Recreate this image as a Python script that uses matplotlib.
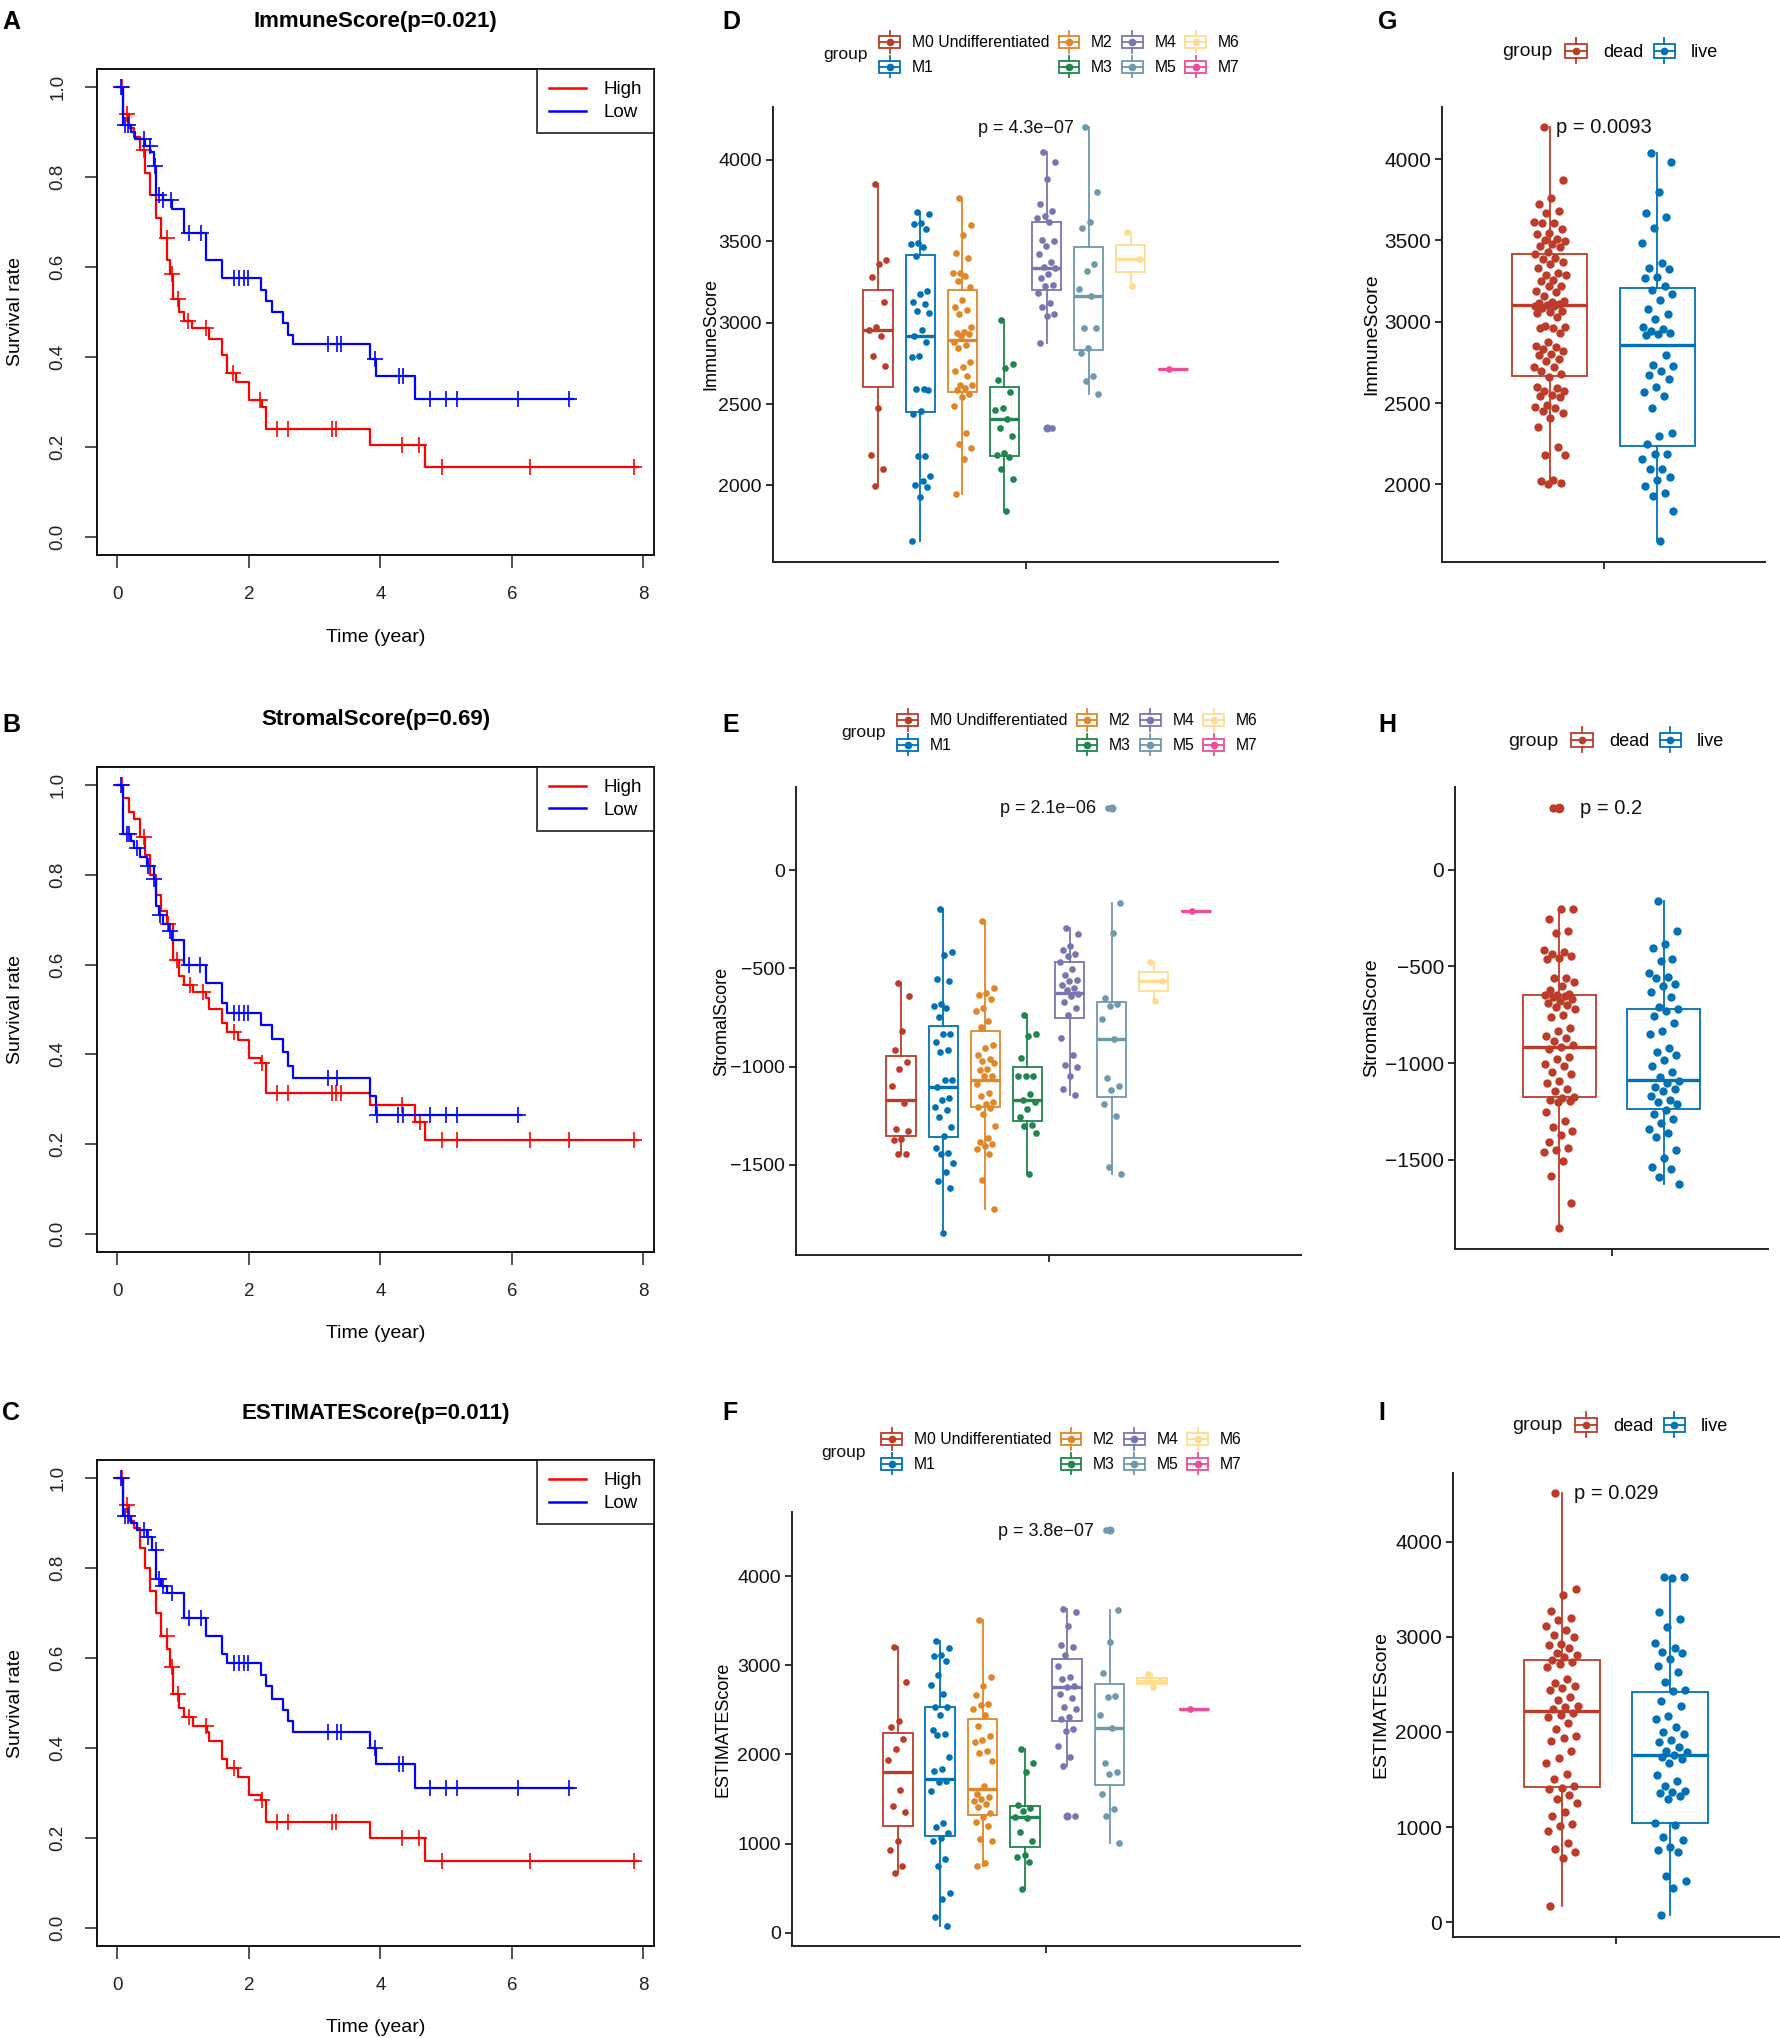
import numpy as np
import matplotlib
matplotlib.use("Agg")
import matplotlib.pyplot as plt
from matplotlib.legend_handler import HandlerBase
from matplotlib.patches import Rectangle
from matplotlib.lines import Line2D

plt.rcParams['font.family'] = ['Liberation Sans', 'DejaVu Sans']

# ======================= DATA =======================
# ---- Kaplan-Meier curves (event times, survival after step, censor times, last follow-up)
A_high_t = [0.08, 0.18, 0.25, 0.34, 0.42, 0.50, 0.59, 0.67, 0.76, 0.80, 0.85, 0.93, 1.01, 1.13, 1.40, 1.59, 1.66, 1.81, 2.00, 2.20, 2.26, 3.84, 4.68]
A_high_s = [0.94, 0.91, 0.89, 0.86, 0.81, 0.76, 0.71, 0.665, 0.615, 0.585, 0.53, 0.50, 0.48, 0.465, 0.44, 0.405, 0.365, 0.345, 0.305, 0.29, 0.24, 0.205, 0.155]
A_high_c = [0.07, 0.15, 0.40, 0.75, 0.83, 0.92, 1.08, 1.35, 1.76, 2.17, 2.43, 2.59, 3.27, 3.33, 4.33, 4.59, 4.93, 6.27, 7.85]
A_high_end = 7.91
A_low_t = [0.08, 0.20, 0.27, 0.42, 0.50, 0.56, 0.59, 0.69, 0.83, 1.01, 1.35, 1.59, 2.18, 2.26, 2.35, 2.52, 2.59, 2.67, 3.84, 3.93, 4.52]
A_low_s = [0.915, 0.90, 0.885, 0.87, 0.855, 0.825, 0.76, 0.75, 0.73, 0.675, 0.615, 0.575, 0.55, 0.525, 0.50, 0.475, 0.45, 0.428, 0.395, 0.357, 0.306]
A_low_c = [0.05, 0.12, 0.16, 0.40, 0.49, 0.57, 0.64, 0.70, 0.82, 1.09, 1.27, 1.78, 1.85, 1.92, 1.98, 3.20, 3.34, 3.40, 3.92, 4.28, 4.35, 4.75, 5.00, 5.17, 6.09, 6.87]
A_low_end = 6.93

B_high_t = [0.08, 0.17, 0.25, 0.34, 0.42, 0.50, 0.59, 0.67, 0.76, 0.84, 0.93, 1.01, 1.15, 1.35, 1.40, 1.59, 1.66, 1.84, 2.00, 2.18, 2.26, 3.84, 4.52, 4.68]
B_high_s = [0.97, 0.94, 0.925, 0.885, 0.845, 0.80, 0.755, 0.72, 0.69, 0.61, 0.575, 0.555, 0.54, 0.525, 0.50, 0.47, 0.45, 0.433, 0.393, 0.38, 0.315, 0.287, 0.25, 0.21]
B_high_c = [0.07, 0.40, 0.77, 0.90, 1.10, 1.30, 1.78, 2.20, 2.43, 2.59, 3.27, 3.33, 3.40, 4.33, 4.60, 4.93, 5.17, 6.27, 6.87, 7.85]
B_high_end = 7.91
B_low_t = [0.08, 0.20, 0.25, 0.35, 0.45, 0.55, 0.59, 0.64, 0.69, 0.78, 0.83, 1.01, 1.35, 1.59, 1.66, 2.18, 2.35, 2.52, 2.59, 2.67, 3.84, 3.93]
B_low_s = [0.89, 0.875, 0.86, 0.84, 0.82, 0.79, 0.73, 0.71, 0.69, 0.675, 0.655, 0.60, 0.558, 0.515, 0.493, 0.465, 0.435, 0.405, 0.375, 0.347, 0.307, 0.265]
B_low_c = [0.05, 0.14, 0.18, 0.30, 0.46, 0.56, 0.65, 0.80, 1.09, 1.25, 1.78, 1.85, 1.92, 1.98, 3.20, 3.34, 3.95, 4.27, 4.35, 4.75, 5.00, 5.17, 6.09]
B_low_end = 6.13

C_high_t = [0.08, 0.18, 0.25, 0.34, 0.42, 0.50, 0.59, 0.67, 0.76, 0.80, 0.85, 0.93, 1.01, 1.15, 1.37, 1.40, 1.59, 1.66, 1.84, 2.00, 2.18, 2.26, 3.84, 4.68]
C_high_s = [0.94, 0.905, 0.89, 0.845, 0.80, 0.75, 0.70, 0.65, 0.62, 0.58, 0.52, 0.49, 0.47, 0.45, 0.435, 0.415, 0.375, 0.355, 0.335, 0.295, 0.285, 0.235, 0.20, 0.15]
C_high_c = [0.07, 0.15, 0.75, 0.83, 0.92, 1.09, 1.35, 1.78, 2.20, 2.43, 2.59, 3.27, 3.33, 4.33, 4.59, 4.93, 6.27, 7.85]
C_high_end = 7.91
C_low_t = [0.08, 0.20, 0.30, 0.45, 0.53, 0.59, 0.66, 0.76, 1.01, 1.35, 1.59, 1.66, 2.18, 2.26, 2.35, 2.52, 2.59, 2.67, 3.84, 3.93, 4.52]
C_low_s = [0.915, 0.90, 0.885, 0.87, 0.84, 0.775, 0.76, 0.745, 0.69, 0.65, 0.61, 0.59, 0.562, 0.537, 0.51, 0.485, 0.46, 0.435, 0.40, 0.365, 0.312]
C_low_c = [0.05, 0.12, 0.16, 0.40, 0.47, 0.58, 0.64, 0.70, 0.83, 1.09, 1.27, 1.78, 1.85, 1.92, 1.98, 3.20, 3.34, 3.40, 3.92, 4.28, 4.35, 4.75, 5.00, 5.17, 6.09, 6.87]
C_low_end = 6.93

km_titles = ["ImmuneScore(p=0.021)", "StromalScore(p=0.69)", "ESTIMATEScore(p=0.011)"]

# ---- groups
m_groups = ["M0 Undifferentiated", "M1", "M2", "M3", "M4", "M5", "M6", "M7"]
m_colors = ["#BC3C29", "#0072B5", "#E18727", "#20854E", "#7876B1", "#6F99AD", "#FFDC91", "#EE4C97"]
s_groups = ["dead", "live"]
s_colors = ["#BC3C29", "#0072B5"]

# ---- D: ImmuneScore by M subtype
D_M0 = [3854, 3388, 3358, 3278, 3125, 2972, 2953, 2918, 2793, 2736, 2478, 2190, 2104, 1998]
D_M1 = [3677, 3670, 3612, 3605, 3576, 3490, 3482, 3464, 3410, 3195, 3176, 3130, 3113, 3070, 3059, 2955, 2918,
        2882, 2795, 2790, 2593, 2590, 2588, 2456, 2442, 2183, 2180, 2059, 2028, 2000, 1988, 1929, 1659]
D_M2 = [3765, 3600, 3536, 3428, 3400, 3308, 3304, 3285, 3254, 3219, 3139, 3099, 3078, 3052, 2972, 2941, 2936,
        2929, 2918, 2880, 2864, 2842, 2760, 2729, 2701, 2675, 2620, 2616, 2600, 2588, 2565, 2541, 2489, 2322,
        2254, 2230, 2165, 1946]
D_M3 = [3019, 2746, 2722, 2647, 2576, 2475, 2466, 2407, 2353, 2306, 2200, 2188, 2172, 2099, 2038, 1842]
D_M4 = [4047, 3988, 3882, 3729, 3687, 3654, 3645, 3619, 3511, 3501, 3471, 3424, 3374, 3341, 3336, 3299, 3275,
        3233, 3228, 3181, 3118, 3099, 3054, 3040, 2878, 2353]
D_M5 = [4200, 3805, 3616, 3584, 3358, 3318, 3207, 3165, 2969, 2965, 2847, 2816, 2675, 2640, 2565]
D_M6 = [3560, 3393, 3228]
D_M7 = [2718]
D_q1 = [2607, 2449, 2576, 2181, 3200, 2831, 3311, 2718]
D_med = [2953, 2918, 2894, 2407, 3336, 3165, 3393, 2718]
D_q3 = [3200, 3416, 3200, 2607, 3619, 3468, 3480, 2718]
D_lo = [1998, 1659, 1946, 1842, 2878, 2565, 3228, 2718]
D_hi = [3854, 3677, 3765, 3019, 4047, 4200, 3560, 2718]
D_out = [[], [], [], [], [2353], [], [], []]
D_p = "p = 4.3e\u221207"

# ---- E: StromalScore by M subtype
E_M0 = [-576, -641, -816, -914, -976, -1012, -1100, -1184, -1318, -1328, -1367, -1373, -1447, -1447]
E_M1 = [-197, -416, -432, -553, -562, -680, -689, -699, -748, -836, -836, -875, -914, -926, -1066, -1070,
        -1103, -1158, -1168, -1203, -1223, -1256, -1305, -1353, -1412, -1441, -1445, -1490, -1535, -1584,
        -1617, -1848]
E_M2 = [-256, -602, -627, -637, -656, -699, -715, -768, -797, -891, -904, -943, -963, -969, -982, -1010,
        -1016, -1047, -1050, -1086, -1133, -1150, -1178, -1190, -1203, -1210, -1240, -1301, -1363, -1385,
        -1393, -1402, -1420, -1447, -1578, -1724]
E_M3 = [-738, -836, -846, -957, -1047, -1047, -1050, -1139, -1172, -1180, -1217, -1256, -1295, -1300, -1338, -1545]
E_M4 = [-293, -324, -387, -406, -426, -436, -465, -504, -533, -560, -562, -582, -602, -611, -631, -640,
        -670, -699, -738, -855, -943, -992, -1002, -1047, -1115, -1144]
E_M5 = [316, -166, -318, -650, -680, -689, -758, -859, -1057, -1096, -1119, -1188, -1250, -1510, -1549]
E_M6 = [-465, -566, -664]
E_M7 = [-205]
E_q1 = [-1351, -1357, -1203, -1279, -754, -1152, -615, -205]
E_med = [-1170, -1103, -1066, -1170, -627, -859, -566, -205]
E_q3 = [-947, -793, -820, -1002, -465, -672, -518, -205]
E_lo = [-1447, -1848, -1724, -1545, -1144, -1549, -664, -205]
E_hi = [-576, -197, -256, -738, -293, -166, -465, -205]
E_out = [[], [], [], [], [], [316], [], []]
E_p = "p = 2.1e\u221206"

# ---- F: ESTIMATEScore by M subtype
F_M0 = [3209, 2809, 2379, 2314, 2176, 2056, 1940, 1596, 1424, 1359, 1032, 925, 744, 667]
F_M1 = [3273, 3196, 3118, 3101, 3045, 2895, 2779, 2680, 2538, 2538, 2439, 2271, 2228, 2215, 1970, 1841,
        1819, 1699, 1690, 1592, 1230, 1183, 1118, 1067, 1024, 830, 753, 443, 379, 176, 78]
F_M2 = [3505, 2873, 2766, 2671, 2572, 2559, 2508, 2443, 2323, 2207, 2164, 2142, 2034, 2013, 1927, 1647,
        1561, 1527, 1497, 1475, 1441, 1411, 1346, 1303, 1239, 1196, 1054, 1024, 787, 753]
F_M3 = [2056, 1905, 1798, 1432, 1398, 1368, 1303, 1282, 1131, 1032, 873, 852, 796, 486]
F_M4 = [3634, 3600, 3441, 3226, 3204, 3118, 2989, 2873, 2852, 2766, 2753, 2680, 2637, 2529, 2508, 2422,
        2400, 2284, 2258, 2099, 1970, 1871, 1312]
F_M5 = [4516, 3626, 3260, 2916, 2658, 2645, 2443, 2301, 1905, 1798, 1776, 1561, 1389, 1312, 1011]
F_M6 = [2900, 2822, 2753]
F_M7 = [2516]
F_q1 = [1196, 1080, 1316, 959, 2379, 1656, 2787, 2516]
F_med = [1807, 1725, 1613, 1303, 2753, 2301, 2822, 2516]
F_q3 = [2241, 2538, 2400, 1424, 3067, 2787, 2860, 2516]
F_lo = [667, 78, 753, 486, 1871, 1011, 2753, 2516]
F_hi = [3209, 3273, 3505, 2056, 3634, 3626, 2900, 2516]
F_out = [[], [], [], [], [1312], [4516], [], []]
F_p = "p = 3.8e\u221207"

# ---- G: ImmuneScore dead / live
G_dead = [4196, 3873, 3758, 3724, 3682, 3666, 3613, 3608, 3608, 3571, 3544, 3537, 3509, 3505, 3498, 3475,
          3468, 3459, 3429, 3417, 3389, 3383, 3366, 3355, 3330, 3297, 3290, 3290, 3254, 3250, 3221, 3217,
          3187, 3180, 3159, 3127, 3122, 3115, 3106, 3105, 3097, 3095, 3083, 3067, 3060, 3055, 3032, 2972,
          2968, 2961, 2961, 2933, 2876, 2850, 2846, 2834, 2818, 2800, 2793, 2770, 2756, 2721, 2719, 2700,
          2680, 2660, 2599, 2595, 2576, 2572, 2548, 2542, 2535, 2489, 2477, 2468, 2449, 2442, 2408, 2350,
          2231, 2180, 2180, 2030, 2023, 2007, 2000]
G_live = [4035, 3982, 3797, 3671, 3641, 3578, 3482, 3364, 3332, 3325, 3272, 3267, 3221, 3198, 3168, 3134,
          3078, 3048, 3014, 2968, 2956, 2945, 2933, 2926, 2917, 2793, 2737, 2726, 2696, 2673, 2645, 2599,
          2569, 2542, 2472, 2316, 2300, 2249, 2189, 2184, 2157, 2097, 2097, 2046, 2028, 1989, 1947, 1926,
          1839, 1655]
G_q1 = [2664, 2235]
G_med = [3101, 2857]
G_q3 = [3417, 3205]
G_lo = [2000, 1655]
G_hi = [4196, 4035]
G_out = [[], []]
G_p = "p = 0.0093"

# ---- H: StromalScore dead / live
H_dead = [319, -201, -201, -256, -315, -329, -414, -424, -434, -444, -454, -463, -558, -562, -578, -601,
          -621, -640, -645, -650, -655, -660, -670, -680, -690, -700, -710, -720, -749, -759, -818, -834,
          -857, -870, -887, -905, -917, -926, -966, -980, -1005, -1015, -1045, -1054, -1094, -1104, -1133,
          -1143, -1173, -1180, -1188, -1195, -1202, -1252, -1301, -1330, -1350, -1370, -1409, -1439, -1449,
          -1458, -1508, -1583, -1725, -1853]
H_live = [-164, -319, -384, -404, -463, -473, -532, -552, -562, -591, -601, -631, -656, -710, -719, -729,
          -755, -794, -834, -847, -920, -940, -956, -986, -1015, -1045, -1074, -1094, -1104, -1123, -1133,
          -1143, -1169, -1188, -1202, -1212, -1242, -1261, -1291, -1307, -1340, -1360, -1380, -1449, -1492,
          -1537, -1547, -1587, -1626]
H_q1 = [-1177, -1236]
H_med = [-917, -1088]
H_q3 = [-645, -719]
H_lo = [-1853, -1626]
H_hi = [-201, -164]
H_out = [[319], []]
H_p = "p = 0.2"

# ---- I: ESTIMATEScore dead / live
I_dead = [4509, 3499, 3439, 3267, 3198, 3178, 3118, 3066, 3018, 2998, 2926, 2910, 2878, 2830, 2806, 2790,
          2758, 2737, 2709, 2677, 2557, 2517, 2477, 2457, 2437, 2365, 2337, 2277, 2257, 2236, 2196, 2176,
          2156, 2096, 2028, 1956, 1936, 1908, 1796, 1724, 1675, 1555, 1507, 1435, 1415, 1395, 1335, 1295,
          1255, 1154, 1114, 1034, 1014, 954, 834, 774, 734, 673, 172]
I_live = [3627, 3627, 3619, 3259, 3190, 3106, 2938, 2886, 2838, 2830, 2766, 2697, 2629, 2525, 2445, 2429,
          2325, 2277, 2164, 2136, 2056, 1996, 1976, 1916, 1896, 1836, 1804, 1788, 1756, 1736, 1716, 1675,
          1547, 1483, 1427, 1375, 1363, 1355, 1323, 1295, 1042, 1026, 890, 862, 794, 762, 742, 489, 433,
          361, 72]
I_q1 = [1423, 1046]
I_med = [2224, 1760]
I_q3 = [2753, 2417]
I_lo = [172, 72]
I_hi = [4509, 3627]
I_out = [[], []]
I_p = "p = 0.029"

# ======================= FIGURE =======================
W, H = 1780, 2038
fig = plt.figure(figsize=(W / 100, H / 100), dpi=100)
fig.patch.set_facecolor("white")


def add_ax(l, t, r, b):
    return fig.add_axes([l / W, 1 - b / H, (r - l) / W, (b - t) / H])


def ftext(x, y, s, **kw):
    fig.text(x / W, 1 - y / H, s, **kw)


# ---------- Kaplan-Meier panels ----------
def km_panel(box, title, title_y, xlab_y, hi, lo):
    l, t, r, b = box
    ax = add_ax(l, t, r, b)
    handles = []
    for (times, surv, cens, end), col in [(hi, "#FF0000"), (lo, "#0000FF")]:
        times = np.asarray(times, float)
        surv = np.asarray(surv, float)
        tt = np.concatenate([[0.0], times, [end]])
        ss = np.concatenate([[1.0], surv, [surv[-1]]])
        ax.step(tt, ss, where="post", color=col, lw=1.6)
        idx = np.searchsorted(times, np.asarray(cens), side="right")
        cs = np.concatenate([[1.0], surv])[idx]
        ax.plot(cens, cs, ls="none", marker="+", ms=11, mew=1.2, color=col)
        handles.append(Line2D([], [], color=col, lw=1.8))
    ax.set_xlim(-0.31, 8.16)
    ax.set_ylim(-0.04, 1.04)
    ax.set_xticks([0, 2, 4, 6, 8])
    ax.set_yticks([0, 0.2, 0.4, 0.6, 0.8, 1.0])
    ax.set_yticklabels(["0.0", "0.2", "0.4", "0.6", "0.8", "1.0"], rotation=90, va="center")
    ax.tick_params(direction="out", length=9, width=1.1, labelsize=13.5, pad=13, colors="#222222")
    for sp in ax.spines.values():
        sp.set_linewidth(1.4)
        sp.set_color("#111111")
    ax.set_xlabel("Time (year)", fontsize=14)
    ax.xaxis.label.set_va("center")
    ax.xaxis.set_label_coords(0.5, (b - xlab_y) / (b - t))
    ax.set_ylabel("Survival rate", fontsize=14)
    ax.yaxis.label.set_va("center")
    ax.yaxis.set_label_coords((16 - l) / (r - l), 0.5)
    leg = ax.legend(handles, ["High", "Low"], loc="upper right", bbox_to_anchor=(1, 1),
                    borderaxespad=0, fancybox=False, edgecolor="#111111", fontsize=13.5,
                    handlelength=1.95, handletextpad=0.95, borderpad=0.65, labelspacing=0.3)
    leg.get_frame().set_linewidth(1.4)
    ftext((l + r) / 2, title_y, title, ha="center", va="center", fontsize=16, fontweight="bold")
    return ax


km_panel((97, 69, 654, 555), km_titles[0], 22, 637,
         (A_high_t, A_high_s, A_high_c, A_high_end), (A_low_t, A_low_s, A_low_c, A_low_end))
km_panel((97, 767, 654, 1252), km_titles[1], 719, 1334,
         (B_high_t, B_high_s, B_high_c, B_high_end), (B_low_t, B_low_s, B_low_c, B_low_end))
km_panel((97, 1460, 654, 1946), km_titles[2], 1413, 2027,
         (C_high_t, C_high_s, C_high_c, C_high_end), (C_low_t, C_low_s, C_low_c, C_low_end))


# ---------- box plot panels ----------
class BoxKey(HandlerBase):
    def create_artists(self, legend, orig, xd, yd, width, height, fontsize, trans):
        c = orig.get_edgecolor()
        x0, y0 = -xd, -yd
        bx0, bx1 = x0 + 0.06 * width, x0 + 0.94 * width
        by0, by1 = y0 + 0.05 * height, y0 + 0.95 * height
        xm, ym = x0 + width / 2, y0 + height / 2
        rect = Rectangle((bx0, by0), bx1 - bx0, by1 - by0, fc="white", ec=c, lw=1.3, transform=trans)
        med = Line2D([bx0, bx1], [ym, ym], color=c, lw=1.3, transform=trans)
        w1 = Line2D([xm, xm], [y0 - 0.3 * height, by0], color=c, lw=1.3, transform=trans)
        w2 = Line2D([xm, xm], [by1, y0 + 1.3 * height], color=c, lw=1.3, transform=trans)
        dot = Line2D([xm], [ym], marker="o", ms=4.5, color=c, mec=c, transform=trans)
        return [rect, med, w1, w2, dot]


def box_panel(box, pts, q1, med, q3, lo, hi, out, cols, ylim, yticks, ylabel, ylab_x, ptext, p_y,
              ms, jit, fs_tick, fs_lab, fs_p, ylabels=None):
    l, t, r, b = box
    ax = add_ax(l, t, r, b)
    n = len(pts)
    step = 0.8 / n
    pos = 1 + (np.arange(n) - (n - 1) / 2) * step
    bw = 0.7 * step
    for i in range(n):
        st = dict(med=med[i], q1=q1[i], q3=q3[i], whislo=lo[i], whishi=hi[i], fliers=out[i])
        ax.bxp([st], positions=[pos[i]], widths=bw, showcaps=False, patch_artist=True,
               boxprops=dict(facecolor="white", edgecolor=cols[i], linewidth=1.3),
               whiskerprops=dict(color=cols[i], linewidth=1.3),
               medianprops=dict(color=cols[i], linewidth=2.4),
               flierprops=dict(marker="o", markerfacecolor=cols[i], markeredgecolor=cols[i],
                               markersize=ms))
        k = len(pts[i])
        off = ((np.arange(k) * 0.6180339887 + 0.31) % 1 - 0.5) * 2 * jit
        ax.scatter(pos[i] + off, pts[i], s=ms ** 2, color=cols[i], linewidths=0, zorder=3)
    ax.set_xlim(0.4, 1.6)
    ax.set_ylim(*ylim)
    ax.set_xticks([1])
    ax.set_xticklabels([""])
    ax.set_yticks(yticks)
    if ylabels is not None:
        ax.set_yticklabels(ylabels)
    ax.tick_params(direction="out", length=5, width=1.2, labelsize=fs_tick, pad=3, colors="#111111")
    for sp in ["top", "right"]:
        ax.spines[sp].set_visible(False)
    for sp in ["left", "bottom"]:
        ax.spines[sp].set_linewidth(1.4)
        ax.spines[sp].set_color("#222222")
    ax.set_ylabel(ylabel, fontsize=fs_lab)
    ax.yaxis.label.set_va("center")
    ax.yaxis.set_label_coords((ylab_x - l) / (r - l), 0.5)
    ax.text(1.0, p_y, ptext, ha="center", va="center", fontsize=fs_p, color="#111111")
    return ax


def legend_at(ax, labels, cols, x_left, y_c, ncol, fs, title_x, hl, tp, colsp, tfs):
    handles = [Rectangle((0, 0), 1, 1, fc="white", ec=c) for c in cols]
    ax.legend(handles, labels, ncol=ncol, loc="center left",
              bbox_to_anchor=(x_left / W, 1 - y_c / H), bbox_transform=fig.transFigure,
              frameon=False, handler_map={Rectangle: BoxKey()}, fontsize=fs,
              handlelength=hl, handleheight=0.95, handletextpad=tp, columnspacing=colsp,
              labelspacing=0.62, borderpad=0, borderaxespad=0)
    ftext(title_x, y_c, "group", ha="center", va="center", fontsize=tfs, color="#111111")


e_ticks = [-1500, -1000, -500, 0]
e_lbls = ["\u22121500", "\u22121000", "\u2212500", "0"]

axD = box_panel((773, 107, 1278, 562), [D_M0, D_M1, D_M2, D_M3, D_M4, D_M5, D_M6, D_M7],
                D_q1, D_med, D_q3, D_lo, D_hi, D_out, m_colors, (1530, 4325),
                [2000, 2500, 3000, 3500, 4000], "ImmuneScore", 711, D_p, 4195,
                4.8, 0.023, 14, 13, 13)
legend_at(axD, m_groups, m_colors, 878, 55, 4, 11.3, 846, 1.5, 0.65, 0.5, 12.5)

axE = box_panel((796, 787, 1301, 1255), [E_M0, E_M1, E_M2, E_M3, E_M4, E_M5, E_M6, E_M7],
                E_q1, E_med, E_q3, E_lo, E_hi, E_out, m_colors, (-1959, 424),
                e_ticks, "StromalScore", 722, E_p, 312,
                4.8, 0.023, 14, 13, 13, ylabels=e_lbls)
legend_at(axE, m_groups, m_colors, 896, 733, 4, 11.3, 863, 1.5, 0.65, 0.5, 12.5)

axF = box_panel((792, 1512, 1300, 1946), [F_M0, F_M1, F_M2, F_M3, F_M4, F_M5, F_M6, F_M7],
                F_q1, F_med, F_q3, F_lo, F_hi, F_out, m_colors, (-150, 4722),
                [0, 1000, 2000, 3000, 4000], "ESTIMATEScore", 723, F_p, 4508,
                4.8, 0.023, 14, 13, 13)
legend_at(axF, m_groups, m_colors, 880, 1452, 4, 11.3, 844, 1.5, 0.65, 0.5, 12.5)

axG = box_panel((1442, 107, 1765, 562), [G_dead, G_live], G_q1, G_med, G_q3, G_lo, G_hi, G_out,
                s_colors, (1523, 4320), [2000, 2500, 3000, 3500, 4000], "ImmuneScore", 1372, G_p, 4196,
                6.0, 0.06, 15, 14, 14.5)
legend_at(axG, s_groups, s_colors, 1564, 52, 2, 13, 1527, 1.35, 0.8, 0.5, 14)

axH = box_panel((1455, 787, 1768, 1249), [H_dead, H_live], H_q1, H_med, H_q3, H_lo, H_hi, H_out,
                s_colors, (-1961, 428), e_ticks, "StromalScore", 1372, H_p, 319,
                6.0, 0.06, 15, 14, 14.5, ylabels=e_lbls)
legend_at(axH, s_groups, s_colors, 1570, 741, 2, 13, 1533, 1.35, 0.8, 0.5, 14)

axI = box_panel((1453, 1473, 1779, 1937), [I_dead, I_live], I_q1, I_med, I_q3, I_lo, I_hi, I_out,
                s_colors, (-156, 4721), [0, 1000, 2000, 3000, 4000], "ESTIMATEScore", 1381, I_p, 4509,
                6.0, 0.06, 15, 14, 14.5)
legend_at(axI, s_groups, s_colors, 1574, 1426, 2, 13, 1537, 1.35, 0.8, 0.5, 14)

# ---------- panel letters ----------
for (x, y, s) in [(2, 22, "A"), (2, 725, "B"), (2, 1413, "C"),
                  (722, 22, "D"), (722, 725, "E"), (722, 1413, "F"),
                  (1378, 22, "G"), (1378, 725, "H"), (1378, 1413, "I")]:
    ftext(x, y, s, ha="left", va="center", fontsize=18, fontweight="bold")

fig.savefig("out.png", dpi=100, facecolor="white")
